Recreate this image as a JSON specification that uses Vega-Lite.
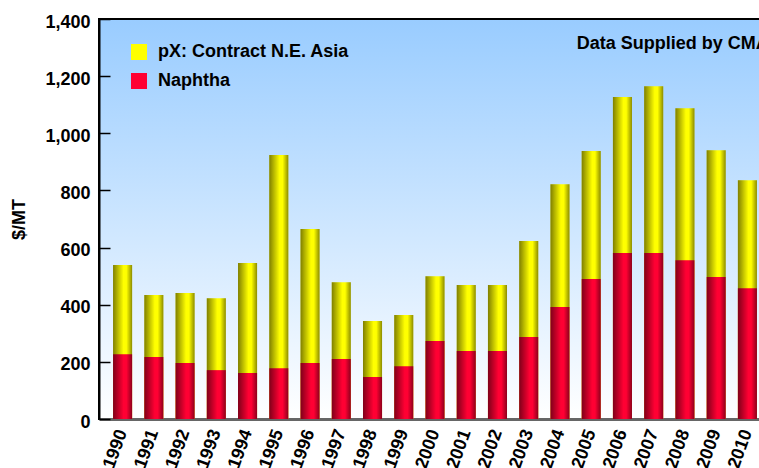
{
  "$schema": "https://vega.github.io/schema/vega-lite/v6.json",
  "autosize": "none",
  "width": 672,
  "height": 400,
  "padding": {"left": 99, "top": 19, "right": 0, "bottom": 49},
  "background": "white",
  "config": {
    "font": "Liberation Sans",
    "view": {
      "stroke": "#000000",
      "strokeWidth": 2,
      "fill": {
        "gradient": "linear",
        "x1": 0, "y1": 0, "x2": 0, "y2": 1,
        "stops": [
          {"offset": 0, "color": "#99CCFF"},
          {"offset": 1, "color": "#FFFFFF"}
        ]
      }
    },
    "axis": {
      "labelFont": "Liberation Sans",
      "labelFontWeight": "bold",
      "labelColor": "#000000",
      "titleFont": "Liberation Sans",
      "titleFontWeight": "bold",
      "titleColor": "#000000",
      "grid": false
    }
  },
  "data": {
    "values": [
      {"year": "1990", "px": 539, "naphtha": 227},
      {"year": "1991", "px": 434, "naphtha": 217},
      {"year": "1992", "px": 441, "naphtha": 196},
      {"year": "1993", "px": 423, "naphtha": 171},
      {"year": "1994", "px": 546, "naphtha": 161},
      {"year": "1995", "px": 924, "naphtha": 178},
      {"year": "1996", "px": 665, "naphtha": 196},
      {"year": "1997", "px": 479, "naphtha": 210},
      {"year": "1998", "px": 343, "naphtha": 147},
      {"year": "1999", "px": 364, "naphtha": 185},
      {"year": "2000", "px": 500, "naphtha": 273},
      {"year": "2001", "px": 469, "naphtha": 238},
      {"year": "2002", "px": 469, "naphtha": 238},
      {"year": "2003", "px": 623, "naphtha": 287},
      {"year": "2004", "px": 822, "naphtha": 392},
      {"year": "2005", "px": 938, "naphtha": 490},
      {"year": "2006", "px": 1127, "naphtha": 581},
      {"year": "2007", "px": 1165, "naphtha": 581},
      {"year": "2008", "px": 1088, "naphtha": 556},
      {"year": "2009", "px": 941, "naphtha": 497},
      {"year": "2010", "px": 836, "naphtha": 458}
    ]
  },
  "encoding": {
    "x": {
      "field": "year",
      "type": "ordinal",
      "scale": {"paddingInner": 0.39, "paddingOuter": 0.45},
      "axis": {
        "title": null,
        "labelAngle": -70,
        "labelAlign": "right",
        "labelBaseline": "middle",
        "labelFontSize": 18,
        "labelPadding": 11,
        "ticks": false,
        "domainColor": "#666666",
        "domainWidth": 3
      }
    }
  },
  "layer": [
    {
      "mark": {"type": "bar"},
      "encoding": {
        "y": {
          "field": "px",
          "type": "quantitative",
          "scale": {"domain": [0, 1400], "nice": false},
          "axis": {
            "title": "$/MT",
            "titleFontSize": 18,
            "titlePadding": 16,
            "values": [0, 200, 400, 600, 800, 1000, 1200, 1400],
            "format": ",.0f",
            "labelFontSize": 18,
            "labelOffset": 3,
            "tickSize": -11,
            "tickColor": "#000000",
            "tickWidth": 1.5,
            "labelPadding": 20,
            "domainColor": "#000000",
            "domainWidth": 2
          }
        },
        "color": {
          "datum": "pX: Contract N.E. Asia",
          "type": "nominal",
          "scale": {
            "domain": ["pX: Contract N.E. Asia", "Naphtha"],
            "range": ["#FFFF00", "#FF0033"]
          },
          "legend": {
            "title": null,
            "orient": "none",
            "legendX": 31,
            "legendY": 24,
            "symbolType": "square",
            "symbolSize": 256,
            "symbolStrokeWidth": 0,
            "labelFontSize": 18,
            "labelFontWeight": "bold",
            "labelFont": "Liberation Sans",
            "labelColor": "#000000",
            "labelLimit": 400,
            "labelOffset": 10,
            "rowPadding": 11
          }
        }
      }
    },
    {
      "mark": {"type": "bar"},
      "encoding": {
        "y": {"field": "naphtha", "type": "quantitative"},
        "color": {"datum": "Naphtha", "type": "nominal"}
      }
    },
    {
      "mark": {
        "type": "bar",
        "fill": {
          "gradient": "linear",
          "x1": 0, "y1": 0, "x2": 1, "y2": 0,
          "stops": [
            {"offset": 0, "color": "rgba(0,0,0,0.5)"},
            {"offset": 0.55, "color": "rgba(0,0,0,0)"},
            {"offset": 0.7, "color": "rgba(0,0,0,0)"},
            {"offset": 1, "color": "rgba(0,0,0,0.45)"}
          ]
        }
      },
      "encoding": {
        "y": {"field": "px", "type": "quantitative"}
      }
    },
    {
      "data": {"values": [{"note": "Data Supplied by CMAI", "year": "2005", "level": 1295}]},
      "mark": {
        "type": "text",
        "align": "left",
        "baseline": "alphabetic",
        "dx": -5,
        "font": "Liberation Sans",
        "fontSize": 18,
        "fontWeight": "bold",
        "color": "#000000"
      },
      "encoding": {
        "x": {"field": "year", "type": "ordinal", "bandPosition": 0},
        "y": {"field": "level", "type": "quantitative"},
        "text": {"field": "note"}
      }
    }
  ]
}
